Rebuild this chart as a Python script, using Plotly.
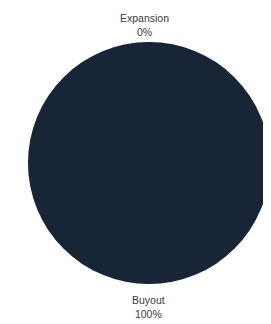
import plotly.graph_objects as go

labels = ["Buyout", "Expansion"]
values = [100, 0]
colors = ["#172536", "#8a9bb0"]

total = sum(values)
pcts = [f"{round(v / total * 100)}%" for v in values]

W, H = 271, 324
cx, cy, r = 141, 155, 121

fig = go.Figure(go.Pie(
    labels=labels,
    values=values,
    marker=dict(colors=colors, line=dict(width=0)),
    textinfo="none",
    sort=False,
    direction="clockwise",
    showlegend=False,
    hoverinfo="label+percent",
    domain=dict(x=[max(0, (cx - r) / W), min(1, (cx + r) / W)], y=[(H - cy - r) / H, (H - cy + r) / H]),
))

font = dict(family="Liberation Sans, Arial, sans-serif", size=10.5, color="#3a3a3a")
fig.add_annotation(x=136 / W, y=1 - 17 / H, xref="paper", yref="paper",
                   text=f"{labels[1]}<br>{pcts[1]}", showarrow=False, font=font,
                   xanchor="center", yanchor="middle")
fig.add_annotation(x=140 / W, y=1 - 299 / H, xref="paper", yref="paper",
                   text=f"{labels[0]}<br>{pcts[0]}", showarrow=False, font=font,
                   xanchor="center", yanchor="middle")

fig.update_layout(width=W, height=H, margin=dict(l=0, r=0, t=0, b=0),
                  paper_bgcolor="white", plot_bgcolor="white")
fig.write_html("out.html")
